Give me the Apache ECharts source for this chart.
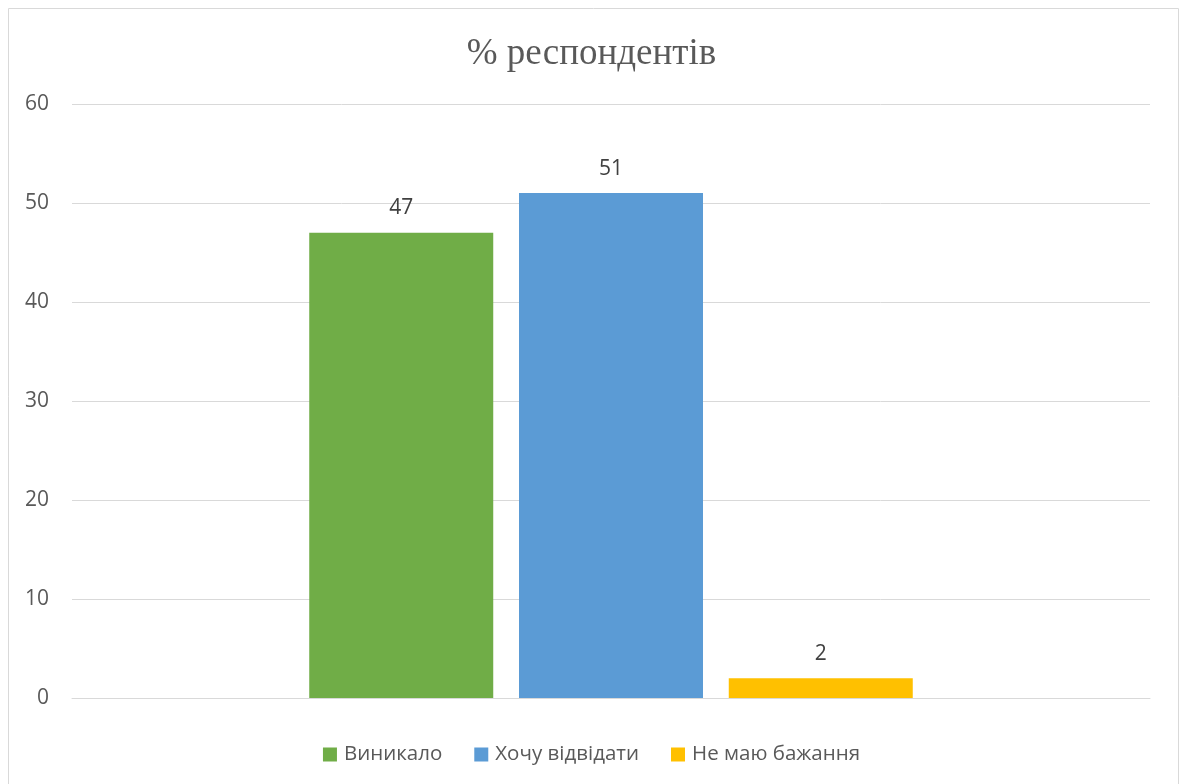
<!DOCTYPE html>
<html>
<head>
<meta charset="utf-8">
<script src="https://cdn.jsdelivr.net/npm/echarts@6/dist/echarts.min.js"></script>
<style>
  html, body { margin: 0; padding: 0; background: #fff; }
  #chart { width: 1183px; height: 784px; }
</style>
</head>
<body>
<div id="chart"></div>
<script>
// Survey results: share of respondents per answer
const categories = [''];
const seriesNames = ['Виникало', 'Хочу відвідати', 'Не маю бажання'];
const seriesValues = [[47], [51], [2]];
const seriesColors = ['#70AD47', '#5B9BD5', '#FFC000'];
const yTicks = { min: 0, max: 60, interval: 10 };

const chart = echarts.init(document.getElementById('chart'));
const fontFamily = '"Open Sans", "Noto Sans", sans-serif';

chart.setOption({
  animation: false,
  title: {
    text: '% респондентів',
    left: 'center',
    top: 31,
    textStyle: { fontFamily: '"Liberation Serif", "Times New Roman", serif', fontSize: 37, fontWeight: 'normal', color: '#595959' }
  },
  graphic: [{
    type: 'rect',
    shape: { x: 8.5, y: 8.5, width: 1170, height: 790 },
    style: { fill: 'none', stroke: '#d9d9d9', lineWidth: 1 },
    silent: true
  }],
  legend: {
    top: 739,
    left: 'center',
    itemWidth: 14,
    itemHeight: 14,
    itemGap: 32,
    icon: 'rect',
    textStyle: { fontFamily, fontSize: 20.5, color: '#595959', padding: [0, 0, 0, 2] },
    data: seriesNames
  },
  grid: { left: 72, right: 33, top: 104, bottom: 86, containLabel: false },
  xAxis: {
    type: 'category',
    data: categories,
    axisLine: { lineStyle: { color: '#d9d9d9' } },
    axisTick: { show: false },
    axisLabel: { show: false }
  },
  yAxis: {
    type: 'value',
    min: yTicks.min,
    max: yTicks.max,
    interval: yTicks.interval,
    axisLine: { show: false },
    axisTick: { show: false },
    axisLabel: { fontFamily, fontSize: 21, color: '#595959', margin: 23 },
    splitLine: { lineStyle: { color: '#d9d9d9', width: 1 } }
  },
  series: seriesNames.map((name, i) => ({
    name,
    type: 'bar',
    data: seriesValues[i],
    barWidth: 184,
    barGap: '14%',
    itemStyle: { color: seriesColors[i] },
    label: {
      show: true,
      position: 'top',
      distance: 14,
      fontFamily,
      fontSize: 21,
      color: '#404040'
    }
  }))
});
</script>
</body>
</html>
